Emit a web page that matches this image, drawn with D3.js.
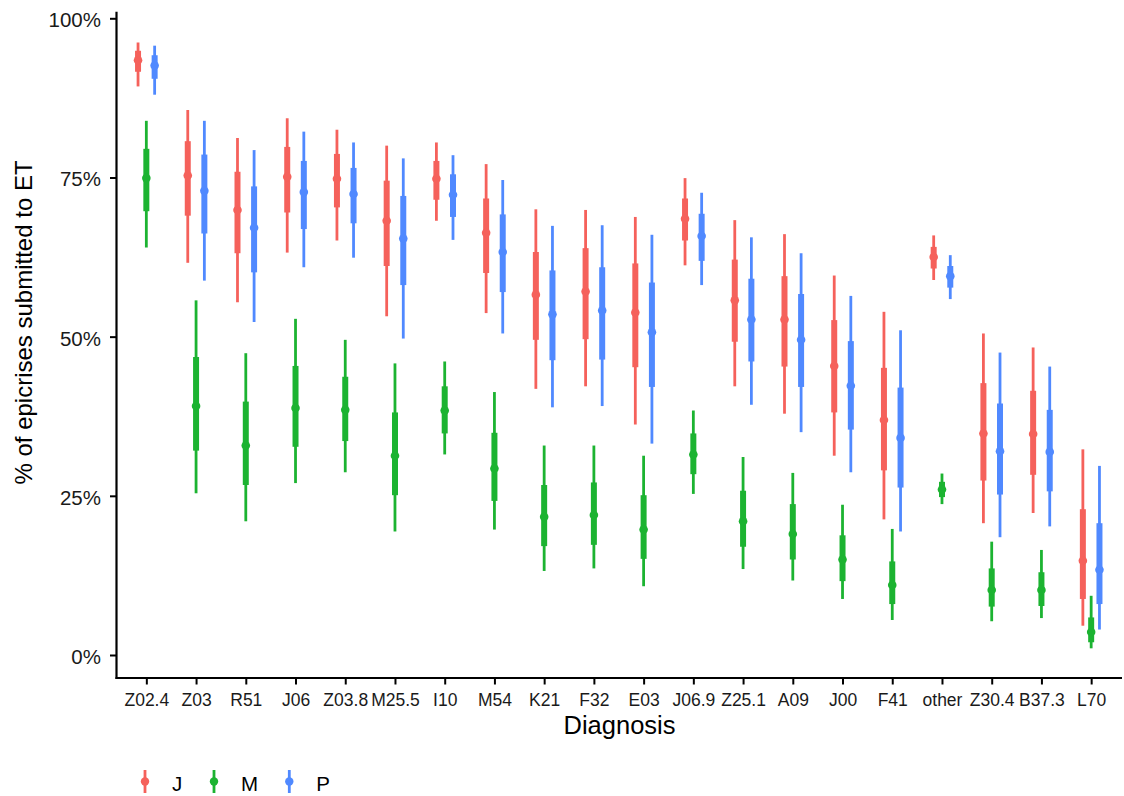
<!DOCTYPE html>
<html>
<head>
<meta charset="utf-8">
<script src="https://cdn.jsdelivr.net/npm/d3@7"></script>
<style>
  html, body { margin: 0; padding: 0; background: #fff; }
  svg { display: block; font-family: "Liberation Sans", Arial, sans-serif; }
</style>
</head>
<body>
<svg id="chart" width="1124" height="796"></svg>
<script>
// Diagnoses on the x axis
const categories = ["Z02.4","Z03","R51","J06","Z03.8","M25.5","I10","M54","K21","F32",
                    "E03","J06.9","Z25.1","A09","J00","F41","other","Z30.4","B37.3","L70"];
const groups = ["J","M","P"];
const groupColors = ["#F5615B", "#1CB331", "#5089FF"];
const yTicks = [0, 25, 50, 75, 100];

// Point estimates (%)
const jMid = [93.4,75.3,69.9,75.1,74.8,68.2,74.8,66.3,56.6,57.1,53.8,68.5,55.7,52.7,45.4,36.9,62.5,34.8,34.7,14.8];
const mMid = [74.9,39.1,32.9,38.8,38.5,31.3,38.4,29.3,21.7,22.0,19.7,31.5,21.0,19.0,15.0,11.0,26.0,10.2,10.2,3.6];
const pMid = [92.6,72.9,67.1,72.7,72.4,65.4,72.3,63.3,53.5,54.1,50.7,65.8,52.7,49.5,42.3,34.1,59.5,32.0,31.9,13.4];

// Inner intervals [low, high] (%)
const jInner = [[91.6,94.9],[69.0,80.7],[63.1,75.9],[69.5,79.8],[70.3,78.7],[61.1,74.5],[71.5,77.6],[60.0,71.7],[49.5,63.3],[49.6,63.9],
                [45.2,61.5],[65.1,71.7],[49.2,62.1],[45.3,59.5],[38.1,52.6],[29.0,45.1],[60.7,64.1],[27.4,42.7],[28.3,41.5],[8.8,22.9]];
const mInner = [[69.7,79.5],[32.1,46.8],[26.7,39.8],[32.7,45.4],[33.6,43.7],[25.1,38.1],[34.8,42.2],[24.2,34.9],[17.1,26.7],[17.3,27.1],
                [15.1,25.1],[28.4,34.8],[17.0,25.8],[15.0,23.7],[11.6,18.8],[8.0,14.7],[24.8,27.2],[7.6,13.6],[7.7,13.0],[2.0,5.9]];
const pInner = [[90.5,94.2],[66.2,78.6],[60.1,73.6],[66.9,77.6],[67.8,76.5],[58.1,72.1],[68.8,75.5],[57.0,69.2],[46.3,60.4],[46.4,60.9],
                [42.1,58.5],[61.9,69.3],[46.1,59.1],[42.1,56.7],[35.4,49.3],[26.3,42.0],[57.7,61.1],[25.2,39.5],[25.7,38.5],[8.0,20.7]];

// Outer intervals [low, high] (%)
const jOuter = [[89.3,96.2],[61.6,85.6],[55.4,81.2],[63.2,84.3],[65.1,82.5],[53.2,80.0],[68.2,80.5],[53.7,77.1],[41.8,70.0],[42.2,69.9],
                [36.2,68.8],[61.2,74.9],[42.2,68.3],[37.9,66.1],[31.3,59.6],[21.3,53.9],[58.9,65.9],[20.7,50.5],[22.3,48.3],[4.6,32.3]];
const mOuter = [[64.0,83.9],[25.4,55.7],[21.0,47.4],[27.0,52.8],[28.7,49.5],[19.4,45.8],[31.5,46.1],[19.7,41.3],[13.2,32.9],[13.6,32.9],
                [10.8,31.3],[25.3,38.4],[13.5,31.1],[11.7,28.6],[8.8,23.6],[5.5,19.8],[23.7,28.5],[5.3,17.8],[5.8,16.5],[1.05,9.3]];
const pOuter = [[88.0,95.7],[58.8,83.9],[52.3,79.3],[60.9,82.2],[62.4,80.5],[49.7,78.0],[65.2,78.5],[50.5,74.6],[38.9,67.4],[39.1,67.5],
                [33.2,66.0],[58.1,72.6],[39.3,65.6],[35.0,63.1],[28.7,56.4],[19.4,51.0],[55.9,62.8],[18.5,47.5],[20.2,45.3],[4.0,29.7]];

const seriesMid = [jMid, mMid, pMid];
const seriesInner = [jInner, mInner, pInner];
const seriesOuter = [jOuter, mOuter, pOuter];

// Flatten into one record per (diagnosis, group)
const rows = [];
groups.forEach((g, gi) => {
  categories.forEach((c, ci) => {
    rows.push({
      cat: c, group: g,
      mid: seriesMid[gi][ci],
      inner: seriesInner[gi][ci],
      outer: seriesOuter[gi][ci]
    });
  });
});

const svg = d3.select("#chart");
const panel = { left: 116.5, right: 1121, top: 11.7, bottom: 678 };

const x = d3.scalePoint().domain(categories).range([panel.left, panel.right]).padding(0.6);
const dodge = d3.scalePoint().domain(groups).range([-8.3, 8.3]);
const y = d3.scaleLinear().domain([0, 100]).range([655, 18.3]);
const color = d3.scaleOrdinal().domain(groups).range(groupColors);

// Axes
const xAxis = d3.axisBottom(x).tickSize(6.5).tickPadding(9).tickSizeOuter(0);
const yAxis = d3.axisLeft(y).tickValues(yTicks).tickFormat(d => d + "%").tickSize(6.5).tickPadding(9);

const gx = svg.append("g").attr("transform", `translate(0,${panel.bottom})`).call(xAxis);
gx.select(".domain").remove();
gx.append("line").attr("x1", panel.left - 1).attr("x2", panel.right + 1)
  .attr("stroke", "#000").attr("stroke-width", 2.2);
gx.selectAll(".tick line").attr("stroke", "#000").attr("stroke-width", 2);
gx.selectAll(".tick text").attr("fill", "#1a1a1a").style("font-size", "17.5px");

const gy = svg.append("g").attr("transform", `translate(${panel.left},0)`).call(yAxis);
gy.select(".domain").remove();
gy.append("line").attr("y1", panel.top).attr("y2", panel.bottom + 1)
  .attr("stroke", "#000").attr("stroke-width", 2.2);
gy.selectAll(".tick line").attr("stroke", "#000").attr("stroke-width", 2);
gy.selectAll(".tick text").attr("fill", "#1a1a1a").attr("dy", "0.41em").style("font-size", "20.5px");

// Axis titles
svg.append("text").attr("x", 619.5).attr("y", 734.3).attr("text-anchor", "middle")
  .style("font-size", "25.5px").attr("fill", "#000").text("Diagnosis");
svg.append("text").attr("transform", "translate(32,322.5) rotate(-90)")
  .attr("text-anchor", "middle").style("font-size", "24px").attr("fill", "#000")
  .text("% of epicrises submitted to ET");

// Interval marks
const marks = svg.append("g");
const cx = d => x(d.cat) + dodge(d.group);

marks.selectAll("line.outer").data(rows).join("line").attr("class", "outer")
  .attr("x1", cx).attr("x2", cx)
  .attr("y1", d => y(d.outer[0])).attr("y2", d => y(d.outer[1]))
  .attr("stroke", d => color(d.group)).attr("stroke-width", 2.8);

marks.selectAll("line.inner").data(rows).join("line").attr("class", "inner")
  .attr("x1", cx).attr("x2", cx)
  .attr("y1", d => y(d.inner[0])).attr("y2", d => y(d.inner[1]))
  .attr("stroke", d => color(d.group)).attr("stroke-width", 6);

marks.selectAll("circle.mid").data(rows).join("circle").attr("class", "mid")
  .attr("cx", cx).attr("cy", d => y(d.mid)).attr("r", 4.3)
  .attr("fill", d => color(d.group));

// Legend
const legendX = [145, 214, 289.3];
const legend = svg.append("g");
groups.forEach((g, i) => {
  const lg = legend.append("g").attr("transform", `translate(${legendX[i]},781.5)`);
  lg.append("line").attr("y1", -11.5).attr("y2", 11.5).attr("stroke", color(g)).attr("stroke-width", 2.8);
  lg.append("circle").attr("r", 4.2).attr("fill", color(g));
  lg.append("text").attr("x", 27).attr("y", 9).style("font-size", "20.5px").attr("fill", "#000").text(g);
});
</script>
</body>
</html>
